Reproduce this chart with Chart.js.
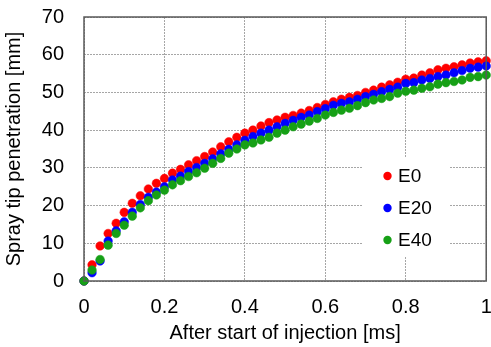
<!DOCTYPE html>
<html>
<head>
<meta charset="utf-8">
<script src="https://cdn.jsdelivr.net/npm/chart.js@4.4.1/dist/chart.umd.min.js"></script>
<style>
html,body{margin:0;padding:0;background:#fff;}
#wrap{width:491px;height:347px;}
</style>
</head>
<body>
<div id="wrap"><canvas id="c" width="491" height="347"></canvas></div>
<script>
const timeMs = [0,0.02,0.04,0.06,0.08,0.10,0.12,0.14,0.16,0.18,0.20,0.22,0.24,0.26,0.28,0.30,0.32,0.34,0.36,0.38,0.40,0.42,0.44,0.46,0.48,0.50,0.52,0.54,0.56,0.58,0.60,0.62,0.64,0.66,0.68,0.70,0.72,0.74,0.76,0.78,0.80,0.82,0.84,0.86,0.88,0.90,0.92,0.94,0.96,0.98,1.00];
const e0 = [0,4.3,9.3,12.6,15.3,18.2,20.6,22.6,24.4,25.9,27.2,28.6,29.6,30.8,31.9,33.0,34.2,35.6,36.9,38.1,39.2,40.0,41.1,42.0,42.7,43.4,43.9,44.5,45.2,46.0,46.8,47.5,48.2,48.7,49.2,50.0,50.6,51.4,52.0,52.7,53.5,53.8,54.6,55.2,56.0,56.4,56.8,57.3,57.8,58.1,58.4];
const e20 = [0,2.2,5.3,10.6,13.3,15.7,18.2,20.3,22.2,23.6,25.0,26.8,27.8,29.0,30.1,31.2,32.4,33.7,34.9,36.1,37.3,38.3,39.2,40.0,40.9,41.8,42.6,43.4,44.0,44.9,45.7,46.6,47.1,47.5,48.2,48.9,49.5,50.2,50.8,51.4,52.4,52.6,53.3,53.7,54.2,54.6,55.2,55.8,56.4,56.7,57.0];
const e40 = [0,2.9,5.7,9.5,12.6,14.8,17.2,19.4,21.3,22.8,24.1,25.5,26.6,27.7,28.7,29.9,31.2,32.5,33.9,35.0,36.1,36.6,37.4,38.1,39.2,40.0,40.9,41.6,42.4,43.1,44.0,44.7,45.3,45.8,46.5,47.3,48.0,48.4,48.9,49.8,50.3,50.6,51.1,51.5,52.2,52.6,52.9,53.3,54.0,54.2,54.6];
const seriesNames = ['E0','E20','E40'];
const seriesColors = ['#ff0000','#0000ff','#16a016'];
const xTicks = [0,0.2,0.4,0.6,0.8,1];
const yTicks = [0,10,20,30,40,50,60,70];

const FONT = "'Liberation Sans', Arial, sans-serif";
function pts(v){ return timeMs.map((t,i)=>({x:t,y:v[i]})); }
const allSeries = [e0,e20,e40];

const datasets = allSeries.map((v,i)=>({
  label: seriesNames[i],
  data: pts(v),
  showLine:false,
  pointStyle:'circle',
  pointRadius:4.3,
  pointHoverRadius:4.3,
  pointBackgroundColor:seriesColors[i],
  pointBorderColor:seriesColors[i],
  pointBorderWidth:0.5,
  order: 2-i,
  clip:false
}));

const boxPlugin = {
  id:'boxAndLegend',
  beforeDatasetsDraw(chart){
    const ctx = chart.ctx;
    ctx.save();
    ctx.fillStyle = '#ffffff';
    ctx.fillRect(363,158,87,98);
    ctx.font = '19px ' + FONT;
    ctx.textBaseline = 'middle';
    ctx.textAlign = 'left';
    seriesNames.forEach((n,i)=>{
      const y = 176 + i*32;
      ctx.fillStyle = seriesColors[i];
      ctx.beginPath(); ctx.arc(387.5,y,4.2,0,Math.PI*2); ctx.fill();
      ctx.fillStyle = '#000';
      ctx.fillText(n,398,y+1);
    });
    ctx.restore();
  },
  afterDatasetsDraw(chart){
    const a = chart.chartArea, ctx = chart.ctx;
    ctx.save();
    ctx.strokeStyle = '#595959';
    ctx.lineWidth = 1.5;
    ctx.strokeRect(a.left, a.top, a.right-a.left, a.bottom-a.top);
    ctx.restore();
  }
};

new Chart(document.getElementById('c'), {
  type:'scatter',
  data:{datasets},
  options:{
    responsive:false,
    animation:false,
    devicePixelRatio:1,
    layout:{padding:{top:17,right:3,left:0,bottom:0}},
    plugins:{legend:{display:false},tooltip:{enabled:false}},
    scales:{
      x:{
        type:'linear', min:0, max:1,
        afterBuildTicks(s){ s.ticks = xTicks.map(v=>({value:v})); },
        afterFit(s){ s.height = 66; s.paddingLeft = 0; s.paddingRight = 0; },
        grid:{color:'#a6a6a6', lineWidth:1, drawTicks:false},
        border:{display:false, dash:[2,1]},
        ticks:{padding:14, color:'#000', font:{family:FONT,size:20}, maxRotation:0,
          callback:(v)=>String(v)},
        title:{display:true, text:'After start of injection [ms]', color:'#000',
          font:{family:FONT,size:20}, padding:{top:0,bottom:2}}
      },
      y:{
        type:'linear', min:0, max:70,
        afterBuildTicks(s){ s.ticks = yTicks.map(v=>({value:v})); },
        afterFit(s){ s.width = 84; s.paddingTop = 0; s.paddingBottom = 0; },
        grid:{color:'#a6a6a6', lineWidth:1, drawTicks:false},
        border:{display:false, dash:[2,1]},
        ticks:{padding:20, color:'#000', font:{family:FONT,size:20}},
        title:{display:true, text:'Spray tip penetration [mm]', color:'#000',
          font:{family:FONT,size:20}, padding:{top:2.5,bottom:0}}
      }
    }
  },
  plugins:[boxPlugin]
});
</script>
</body>
</html>
